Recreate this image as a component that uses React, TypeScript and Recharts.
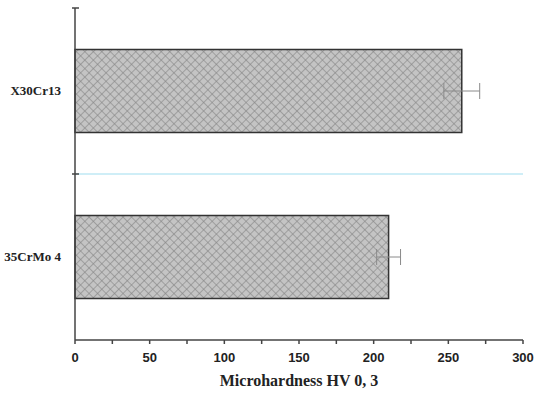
import { Bar, BarChart, CartesianGrid, ErrorBar, XAxis, YAxis } from 'recharts'

const materials = ['X30Cr13', '35CrMo 4']
const hardness = [259, 210]
const hardnessErr = [12, 8]
const xTicks = [0, 25, 50, 75, 100, 125, 150, 175, 200, 225, 250, 275, 300]

const data = materials.map((name, i) => ({ name, hv: hardness[i], err: hardnessErr[i] }))

const W = 535
const H = 395
const M = { top: 8, right: 12, left: 0, bottom: 0 }
const Y_W = 75
const X_H = 55
const band = (H - M.top - M.bottom - X_H) / materials.length

const YTick = (props: any) => {
    const { x, y, payload } = props
    return (
        <g>
            <line x1={Y_W - 3} x2={Y_W + 4} y1={y - band / 2} y2={y - band / 2} stroke='#444' strokeWidth={1.5} />
            <text x={x} y={y} dy={4} textAnchor='end' fontFamily='"Liberation Serif", serif' fontWeight='bold' fontSize={13} fill='#222'>
                {payload.value}
            </text>
        </g>
    )
}

const XTick = (props: any) => {
    const { x, y, payload } = props
    if (payload.value % 50 !== 0) return null
    return (
        <text x={x} y={y + 16} textAnchor='middle' fontFamily='"Liberation Sans", Arial, sans-serif' fontWeight='bold' fontSize={13} fill='#222'>
            {payload.value}
        </text>
    )
}

const App = () => {
    return (
        <div style={{ position: 'absolute', left: 0, top: 0, background: '#fff' }}>
            <BarChart width={W} height={H} data={data} layout='vertical' margin={M} barCategoryGap='25%'>
                <defs>
                    <pattern id='hatch' width={6} height={6} patternUnits='userSpaceOnUse' patternTransform='rotate(45)'>
                        <rect width={6} height={6} fill='#c4c4c4' />
                        <line x1={0} y1={0} x2={0} y2={6} stroke='#858585' strokeWidth={1.2} />
                        <line x1={0} y1={0} x2={6} y2={0} stroke='#858585' strokeWidth={1.2} />
                    </pattern>
                </defs>
                <CartesianGrid
                    vertical={false}
                    stroke='#bfe9f5'
                    strokeWidth={1.5}
                    horizontalCoordinatesGenerator={({ offset }: any) => [offset.top + offset.height / 2]}
                />
                <XAxis
                    type='number'
                    domain={[0, 300]}
                    ticks={xTicks}
                    interval={0}
                    height={X_H}
                    stroke='#444'
                    strokeWidth={1.5}
                    tickSize={4}
                    tick={<XTick />}
                    label={{ value: 'Microhardness HV 0, 3', position: 'insideBottom', offset: 9, fontFamily: '"Liberation Serif", serif', fontWeight: 'bold', fontSize: 16, fill: '#222' }}
                />
                <YAxis
                    type='category'
                    dataKey='name'
                    width={Y_W}
                    stroke='#444'
                    strokeWidth={1.5}
                    tickLine={false}
                    tickMargin={8}
                    tick={<YTick />}
                />
                <Bar dataKey='hv' fill='url(#hatch)' stroke='#333' strokeWidth={1.5} isAnimationActive={false}>
                    <ErrorBar dataKey='err' direction='x' width={8} stroke='#8a8a8a' strokeWidth={1} />
                </Bar>
            </BarChart>
        </div>
    )
}

export default App
